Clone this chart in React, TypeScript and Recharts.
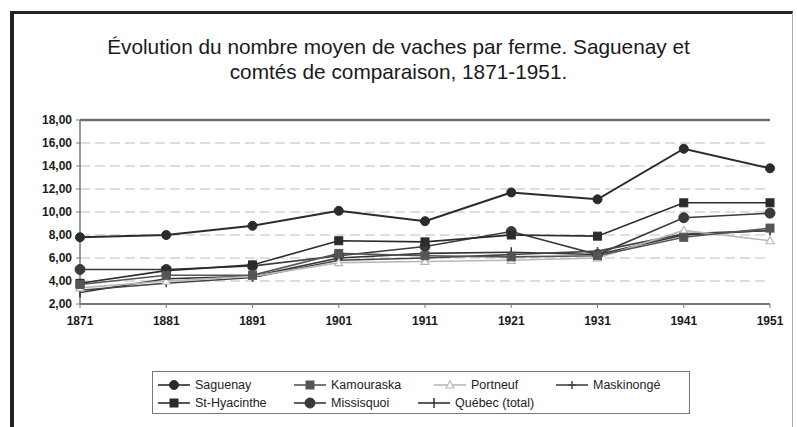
import React from 'react';
import { LineChart, Line, XAxis, YAxis, CartesianGrid, ReferenceLine } from 'recharts';

// Recensements 1871-1951
const years = [1871, 1881, 1891, 1901, 1911, 1921, 1931, 1941, 1951];

const saguenay = [7.8, 8.0, 8.8, 10.1, 9.2, 11.7, 11.1, 15.5, 13.8];
const kamouraska = [3.7, 4.5, 4.5, 6.4, 6.2, 6.1, 6.2, 7.8, 8.6];
const portneuf = [3.4, 4.0, 4.4, 5.6, 5.7, 5.8, 6.0, 8.4, 7.5];
const maskinonge = [3.2, 3.8, 4.3, 5.8, 6.0, 6.3, 6.6, 8.1, 8.4];
const stHyacinthe = [3.8, 4.9, 5.4, 7.5, 7.4, 8.0, 7.9, 10.8, 10.8];
const missisquoi = [5.0, 5.0, 5.3, 6.2, 7.0, 8.3, 6.3, 9.5, 9.9];
const quebec = [3.0, 4.2, 4.4, 6.0, 6.4, 6.5, 6.3, 8.0, 8.4];

const yTicks = [2, 4, 6, 8, 10, 12, 14, 16, 18];

const data = years.map((y, i) => ({
  year: String(y),
  saguenay: saguenay[i],
  kamouraska: kamouraska[i],
  portneuf: portneuf[i],
  maskinonge: maskinonge[i],
  stHyacinthe: stHyacinthe[i],
  missisquoi: missisquoi[i],
  quebec: quebec[i],
}));

type Shape = 'circle' | 'square' | 'triangle' | 'plus' | 'bar' | 'bigcircle';

const DARK = '#2b2b2b';
const LIGHT = '#b8b8b8';

function Marker({ shape, x, y, color }: { shape: Shape; x: number; y: number; color: string }) {
  switch (shape) {
    case 'circle':
      return <circle cx={x} cy={y} r={4.5} fill={color} stroke={color} />;
    case 'bigcircle':
      return <circle cx={x} cy={y} r={5} fill={color} stroke={color} />;
    case 'square':
      return <rect x={x - 4} y={y - 4} width={8} height={8} fill={color} stroke={color} />;
    case 'triangle':
      return <path d={`M${x},${y - 4}L${x + 4},${y + 3}L${x - 4},${y + 3}Z`} fill="#fff" stroke={color} strokeWidth={1.2} />;
    case 'plus':
      return <path d={`M${x - 4},${y}L${x + 4},${y}M${x},${y - 4}L${x},${y + 4}`} stroke={color} strokeWidth={1.5} />;
    case 'bar':
      return <path d={`M${x},${y - 5}L${x},${y + 5}`} stroke={color} strokeWidth={1.5} />;
  }
  return null;
}

const makeDot = (shape: Shape, color: string) => (props: any) => {
  const { cx, cy, index } = props;
  if (cx == null || cy == null) return <g key={index} />;
  return (
    <g key={index}>
      <Marker shape={shape} x={cx} y={cy} color={color} />
    </g>
  );
};

const series: { key: string; name: string; shape: Shape; color: string }[] = [
  { key: 'saguenay', name: 'Saguenay', shape: 'circle', color: DARK },
  { key: 'kamouraska', name: 'Kamouraska', shape: 'square', color: '#555' },
  { key: 'portneuf', name: 'Portneuf', shape: 'triangle', color: LIGHT },
  { key: 'maskinonge', name: 'Maskinongé', shape: 'plus', color: '#444' },
  { key: 'stHyacinthe', name: 'St-Hyacinthe', shape: 'square', color: DARK },
  { key: 'missisquoi', name: 'Missisquoi', shape: 'bigcircle', color: '#3a3a3a' },
  { key: 'quebec', name: 'Québec (total)', shape: 'bar', color: '#333' },
];

// legend slots (left, top) inside the legend box
const legendPos: [number, number][] = [
  [4, 5], [140, 5], [280, 5], [402, 5],
  [4, 23], [140, 23], [264, 23],
];

const font = '"Liberation Sans", Arial, sans-serif';

function LegendBox() {
  return (
    <div
      style={{
        position: 'absolute',
        left: 152,
        top: 371,
        width: 536,
        height: 41,
        border: '1px solid #777',
        background: '#fff',
        fontFamily: font,
        fontSize: 12.5,
        color: '#222',
        overflow: 'hidden',
      }}
    >
      {series.map((s, i) => (
        <div
          key={s.key}
          style={{ position: 'absolute', left: legendPos[i][0], top: legendPos[i][1], display: 'flex', alignItems: 'center', height: 15, whiteSpace: 'nowrap' }}
        >
          <svg width={34} height={14}>
            <line x1={1} y1={7} x2={33} y2={7} stroke={s.color} strokeWidth={1.6} />
            <Marker shape={s.shape} x={17} y={7} color={s.color} />
          </svg>
          <span style={{ marginLeft: 4 }}>{s.name}</span>
        </div>
      ))}
    </div>
  );
}

const tickStyle = { fill: '#1a1a1a', fontSize: 12, fontFamily: font, fontWeight: 'bold' as const };

export default function App() {
  return (
    <div style={{ position: 'absolute', left: 0, top: 0, width: 797, height: 427, background: '#fff', overflow: 'hidden' }}>
      <div
        style={{
          position: 'absolute',
          left: 10,
          top: 11,
          width: 778,
          height: 430,
          borderLeft: '4px solid #222',
          borderTop: '3px solid #222',
          borderRight: '1px solid #aaa',
        }}
      />
      <div
        style={{
          position: 'absolute',
          left: 0,
          top: 34,
          width: 797,
          textAlign: 'center',
          fontFamily: font,
          fontSize: 20.8,
          lineHeight: '25px',
          color: '#1a1a1a',
        }}
      >
        <div>Évolution du nombre moyen de vaches par ferme. Saguenay et</div>
        <div>comtés de comparaison, 1871-1951.</div>
      </div>
      <div style={{ position: 'absolute', left: 0, top: 0 }}>
        <LineChart width={797} height={427} data={data} margin={{ top: 120, right: 27, bottom: 93, left: 20 }}>
          <CartesianGrid vertical={false} stroke="#bdbdbd" strokeDasharray="10 5" />
          <XAxis
            dataKey="year"
            tick={tickStyle}
            tickLine={{ stroke: '#777' }}
            tickSize={4}
            tickMargin={8}
            axisLine={{ stroke: '#777', strokeWidth: 2 }}
            interval={0}
            height={30}
          />
          <YAxis
            domain={[2, 18]}
            ticks={yTicks}
            tickFormatter={(v: number) => v.toFixed(2).replace('.', ',')}
            tick={tickStyle}
            tickLine={{ stroke: '#777' }}
            tickSize={4}
            tickMargin={4}
            axisLine={{ stroke: '#777', strokeWidth: 1.5 }}
            width={60}
            interval={0}
          />
          <YAxis yAxisId="right" orientation="right" domain={[2, 18]} tick={false} tickLine={false} axisLine={{ stroke: '#777', strokeWidth: 1.5 }} width={0} />
          <ReferenceLine y={18} stroke="#6f6f6f" strokeWidth={2.5} strokeDasharray="0" />
          {series
            .slice()
            .reverse()
            .map((s) => (
              <Line
                key={s.key}
                type="linear"
                dataKey={s.key}
                name={s.name}
                stroke={s.color}
                strokeWidth={s.key === 'saguenay' ? 2 : 1.6}
                dot={makeDot(s.shape, s.color)}
                activeDot={false}
                isAnimationActive={false}
              />
            ))}
        </LineChart>
      </div>
      <LegendBox />
    </div>
  );
}
